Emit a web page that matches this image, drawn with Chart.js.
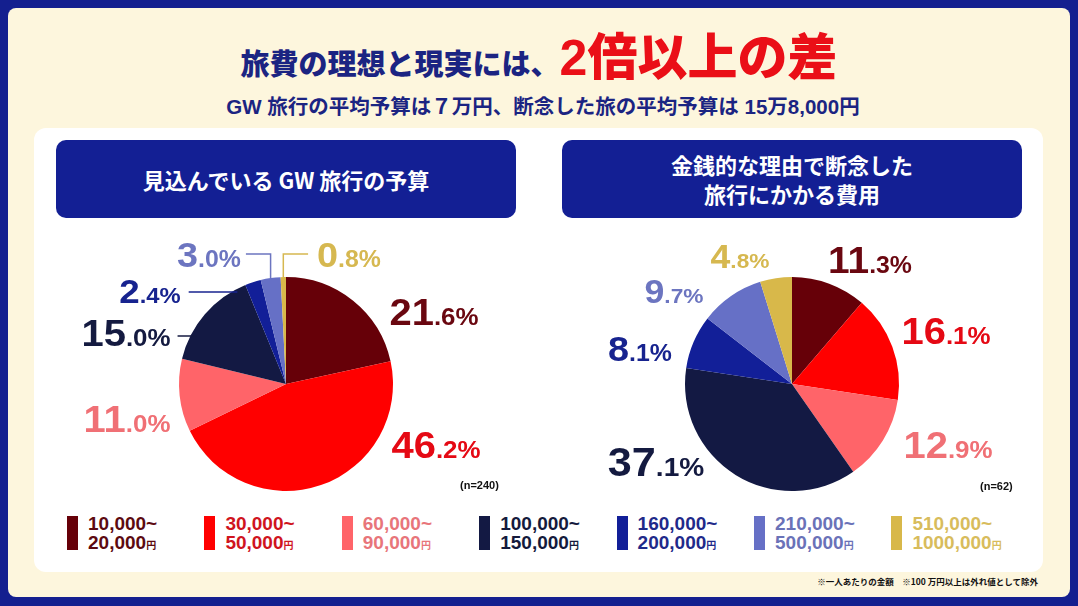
<!DOCTYPE html>
<html>
<head>
<meta charset="utf-8">
<script src="https://cdn.jsdelivr.net/npm/chart.js@4.4.1/dist/chart.umd.min.js"></script>
<style>
  body { margin:0; width:1078px; height:606px; background:#141f8f; overflow:hidden; position:relative;
         font-family:"Liberation Sans","Noto Sans CJK JP",sans-serif; }
  #frame { position:absolute; left:8px; top:8px; width:1062px; height:589px; background:#fdf6dd; border-radius:8px; }
  #panel { position:absolute; left:34px; top:128px; width:1009px; height:444px; background:#fff; border-radius:12px; }
  #title { position:absolute; left:0; top:17px; width:1078px; height:64px; line-height:64px; text-align:center; white-space:nowrap; }
  #title .t1 { font:900 29px "Noto Sans CJK JP"; color:#1b2482; }
  #title .t2 { font:900 50px "Liberation Sans","Noto Sans CJK JP"; color:#ea0f17; }
  #sub { position:absolute; left:4px; top:90px; width:1078px; text-align:center; white-space:nowrap;
         font:bold 20.5px "Liberation Sans","Noto Sans CJK JP"; color:#1b2482; }
  .hdr { position:absolute; top:140px; width:460px; height:78px; background:#131f94; border-radius:10px; color:#fff;
         font:bold 22px "Noto Sans CJK JP"; display:flex; align-items:center; justify-content:center; text-align:center; line-height:29px; }
  canvas { position:absolute; }
  .n { position:absolute; font:bold 11px "Liberation Sans"; color:#111; }
  .lg { position:absolute; top:516px; }
  .lg .sw { position:absolute; left:0; top:0; width:11px; height:34px; }
  .lg .tx { position:absolute; left:21px; top:-2px; white-space:nowrap; font:bold 19px "Liberation Sans"; line-height:19px; }
  .lg .yen { font:bold 10px "Noto Sans CJK JP"; }
  #note { position:absolute; right:40px; top:575px; font:bold 8.5px "Noto Sans CJK JP"; color:#111; white-space:nowrap; }
</style>
</head>
<body>
<div id="frame"></div>
<div id="panel"></div>
<div id="title"><span class="t1">旅費の理想と現実には、</span><span class="t2">2倍以上の差</span></div>
<div id="sub">GW 旅行の平均予算は７万円、断念した旅の平均予算は 15万8,000円</div>
<div class="hdr" style="left:56px">見込んでいる GW 旅行の予算</div>
<div class="hdr" style="left:562px">金銭的な理由で断念した<br>旅行にかかる費用</div>
<canvas id="pieBudget" width="490" height="272" style="left:40px;top:228px"></canvas>
<canvas id="pieGaveUp" width="490" height="272" style="left:550px;top:228px"></canvas>
<div class="n" style="left:460px;top:479px">(n=240)</div>
<div class="n" style="left:980px;top:480px">(n=62)</div>
<div id="legend"></div>
<div id="note">※一人あたりの金額　※100 万円以上は外れ値として除外</div>

<script>
  // budget bands (legend)
  const rangeFrom = ['10,000~', '30,000~', '60,000~', '100,000~', '160,000~', '210,000~', '510,000~'];
  const rangeTo   = ['20,000', '50,000', '90,000', '150,000', '200,000', '500,000', '1000,000'];

  // shares in %
  const budgetShares  = [21.6, 46.2, 11.0, 15.0, 2.4, 3.0, 0.8];   // 見込んでいるGW旅行の予算
  const gaveUpShares  = [11.3, 16.1, 12.9, 37.1, 8.1, 9.7, 4.8];   // 断念した旅行の費用

  const sliceColors  = ['#660008', '#ff0000', '#ff6469', '#131943', '#121f98', '#6670c6', '#d8b84a'];
  const labelColors  = ['#6a0710', '#e50914', '#f07075', '#141a40', '#17238f', '#6c75c0', '#d6b850'];
  const legendColors = ['#5c0a10', '#d0141e', '#e8757a', '#141a3c', '#1f2a8a', '#6a72b8', '#d8bc5c'];

  // label placement relative to pie centre
  const budgetLabelPos = [
    {dx:148, dy:-72, size:37},
    {dx:150, dy:61, size:37},
    {dx:-159, dy:35, size:37},
    {dx:-160, dy:-51, size:37, leader:'h', gap:7, ly:3},
    {dx:-136, dy:-93, size:34, leader:'h', gap:8, ly:1},
    {dx:-77, dy:-130, size:35, leader:'elbowL', gap:5, ly:0},
    {dx:63, dy:-130, size:35, leader:'elbowR', gap:9, ly:0}
  ];
  const gaveUpLabelPos = [
    {dx:78, dy:-124, size:36},
    {dx:154, dy:-53, size:37},
    {dx:156, dy:61, size:37},
    {dx:-136, dy:78, size:40},
    {dx:-152, dy:-36, size:35},
    {dx:-118, dy:-93, size:33},
    {dx:-52, dy:-128, size:33}
  ];

  const pieLabels = {
    id: 'pieLabels',
    afterDatasetsDraw(chart, args, opts) {
      const ctx = chart.ctx;
      const values = chart.data.datasets[0].data;
      const k = 1.08; // glyphs in the original are a bit wider
      chart.getDatasetMeta(0).data.forEach(function(arc, i) {
        const p = arc.getProps(['x', 'y', 'startAngle', 'endAngle', 'outerRadius'], true);
        const lay = opts.layout[i];
        const parts = values[i].toFixed(1).split('.');
        const big = parts[0], small = '.' + parts[1] + '%';
        const bs = lay.size, ss = Math.round(bs * 0.65);
        ctx.save();
        ctx.font = 'bold ' + bs + 'px "Liberation Sans"';
        const wb = ctx.measureText(big).width;
        ctx.font = 'bold ' + ss + 'px "Liberation Sans"';
        const ws = ctx.measureText(small).width;
        const w = (wb + ws) * k;
        const cx = p.x + lay.dx, cy = p.y + lay.dy;
        const left = cx - w / 2, base = cy + bs * 0.36;
        ctx.fillStyle = labelColors[i];
        ctx.textAlign = 'left';
        ctx.textBaseline = 'alphabetic';
        ctx.save();
        ctx.translate(left, base);
        ctx.scale(k, 1);
        ctx.font = 'bold ' + bs + 'px "Liberation Sans"';
        ctx.fillText(big, 0, 0);
        ctx.font = 'bold ' + ss + 'px "Liberation Sans"';
        ctx.fillText(small, wb, 0);
        ctx.restore();

        if (lay.leader) {
          const mid = (p.startAngle + p.endAngle) / 2;
          const rx = p.x + p.outerRadius * Math.cos(mid);
          const ry = p.y + p.outerRadius * Math.sin(mid);
          const ly = cy + lay.ly;
          ctx.strokeStyle = labelColors[i];
          ctx.lineWidth = 1.5;
          ctx.beginPath();
          if (lay.leader === 'h') {
            const hx = p.x - Math.sqrt(p.outerRadius * p.outerRadius - (ly - p.y) * (ly - p.y));
            ctx.moveTo(left + w + lay.gap, ly);
            ctx.lineTo(hx + 6, ly);
          } else if (lay.leader === 'elbowL') {
            ctx.moveTo(left + w + lay.gap, ly);
            ctx.lineTo(rx, ly);
            ctx.lineTo(rx, ry);
          } else {
            ctx.moveTo(left - lay.gap, ly);
            ctx.lineTo(rx, ly);
            ctx.lineTo(rx, ry);
          }
          ctx.stroke();
        }
        ctx.restore();
      });
    }
  };

  function drawPie(id, values, labelPos, padding) {
    const ctx = document.getElementById(id).getContext('2d');
    return new Chart(ctx, {
      type: 'pie',
      data: {
        labels: rangeFrom.map(function(f, i) { return f + rangeTo[i] + '円'; }),
        datasets: [{ data: values, backgroundColor: sliceColors, borderWidth: 0 }]
      },
      options: {
        responsive: false,
        animation: false,
        layout: { padding: padding },
        plugins: {
          legend: { display: false },
          tooltip: { enabled: false },
          pieLabels: { layout: labelPos }
        }
      },
      plugins: [pieLabels]
    });
  }

  drawPie('pieBudget', budgetShares, budgetLabelPos, {left:139, right:137, top:49, bottom:9});
  drawPie('pieGaveUp', gaveUpShares, gaveUpLabelPos, {left:135, right:141, top:49, bottom:9});

  // legend
  const legend = document.getElementById('legend');
  rangeFrom.forEach(function(f, i) {
    const item = document.createElement('div');
    item.className = 'lg';
    item.style.left = (67 + i * 137.4) + 'px';
    item.innerHTML = '<div class="sw" style="background:' + sliceColors[i] + '"></div>' +
      '<div class="tx" style="color:' + legendColors[i] + '">' + f + '<br>' + rangeTo[i] +
      '<span class="yen">円</span></div>';
    legend.appendChild(item);
  });
</script>
</body>
</html>
